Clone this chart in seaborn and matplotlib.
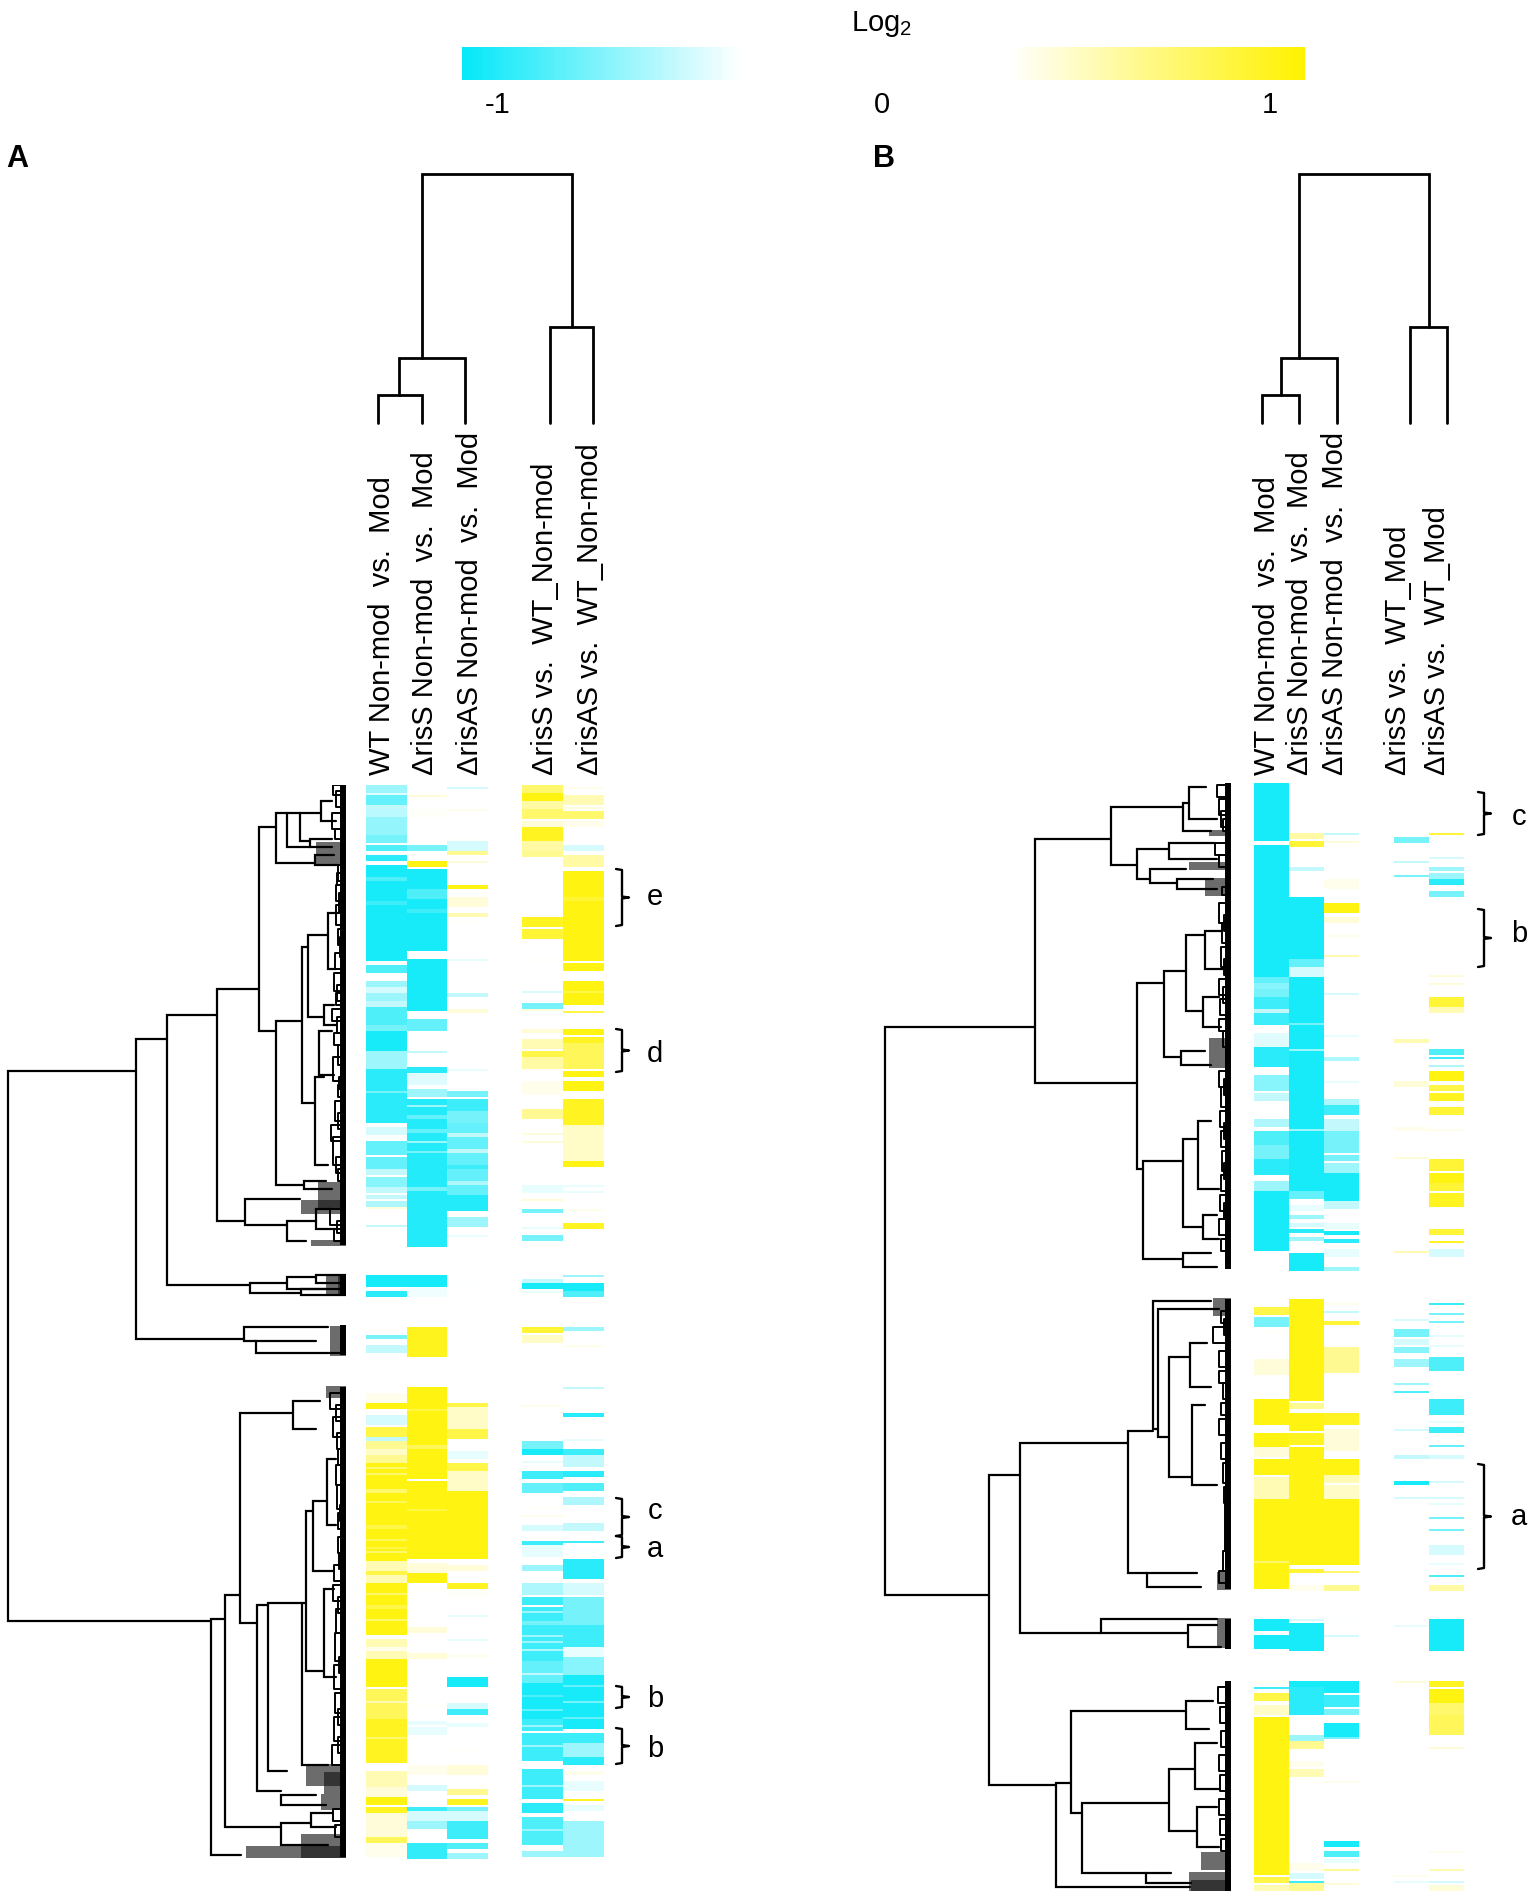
import numpy as np
import matplotlib
matplotlib.use("Agg")
import matplotlib.pyplot as plt
from matplotlib.colors import LinearSegmentedColormap
import seaborn as sns

# heatmap bands, one list per column: (first row, last row, log2 value), the rest of a column is 0
A_ROWS = 537
B_ROWS = 554

A_WT = [(0, 3, -.6), (4, 5, -.42), (5, 10, -.75), (10, 12, -.5), (12, 16, -.52), (16, 20, -.62), (20, 24, -.62), (25, 28, -.7),
        (30, 32, -.8), (35, 37, -.9), (40, 87, -.95), (46, 47, -.8), (58, 59, -.85), (90, 93, -.8), (98, 100, -.6), (101, 103, -.45),
        (104, 107, -.6), (108, 110, -.5), (111, 113, -.8), (114, 119, -.8), (120, 122, -.7), (123, 133, -.95), (133, 141, -.6), (142, 168, -.9),
        (153, 153, -.7), (171, 174, -.45), (176, 177, -.35), (178, 184, -.75), (186, 191, -.75), (192, 194, -.5), (196, 200, -.65),
        (201, 203, -.5), (205, 206, -.5), (208, 210, -.55), (211, 211, .4), (220, 220, -.5), (245, 250, -.95), (253, 255, -.9),
        (275, 276, -.7), (280, 283, -.5), (304, 308, .35), (309, 311, .95), (315, 319, -.45), (321, 326, .8), (326, 328, -.5),
        (328, 331, .6), (332, 334, .45), (335, 338, .6), (339, 387, .95), (341, 341, .7), (344, 344, .7), (352, 353, .7), (358, 358, .75),
        (370, 371, .8), (377, 377, .75), (381, 381, .8), (383, 383, .7),
        (388, 399, .5), (393, 394, .8), (399, 424, .95), (404, 404, .7), (410, 411, .8), (417, 417, .7), (427, 437, .5), (431, 432, .35),
        (437, 450, .95), (452, 467, .75), (458, 458, .5), (467, 488, .9), (476, 476, .7), (493, 500, .5), (501, 506, .4), (506, 509, .95),
        (511, 514, .9), (514, 525, .4), (526, 529, .75), (529, 535, .35)]
A_S = [(5, 5, .4), (12, 15, .32), (30, 32, -.7), (38, 40, .95), (42, 82, -.95), (52, 56, -.8), (62, 63, -.85), (87, 112, -.95),
       (117, 122, -.75), (133, 133, -.5), (141, 143, -.9), (144, 149, -.42), (152, 155, -.6), (157, 230, -.92), (160, 160, -.6),
       (165, 166, -.75), (172, 173, -.75), (178, 178, -.6), (183, 183, -.7), (201, 202, -.7), (245, 251, -.95), (251, 255, -.38),
       (271, 285, .92), (301, 346, .95), (312, 312, .8), (330, 331, .75), (348, 386, .95), (362, 362, .8), (387, 388, -.32), (389, 394, .4),
       (394, 398, .95), (401, 402, .32), (421, 423, .4), (434, 436, .4), (460, 460, .32), (468, 469, -.4), (471, 474, -.4), (490, 494, .35),
       (500, 502, -.45), (511, 512, -.85), (513, 518, -.45), (518, 521, -.6), (529, 536, -.88)]
A_AS = [(1, 1, -.45), (12, 12, .35), (27, 27, .32), (28, 32, -.45), (33, 34, .6), (38, 38, .4), (50, 51, .95), (56, 60, .4), (64, 65, .5),
        (68, 68, .32), (87, 87, -.4), (104, 105, -.5), (112, 113, .4), (142, 142, -.4), (153, 155, -.7), (157, 162, -.85), (163, 169, -.7),
        (169, 205, -.75), (174, 175, -.5), (182, 183, -.5), (190, 191, -.85), (198, 199, -.55), (205, 212, -.92), (216, 220, -.6),
        (225, 225, -.4), (250, 250, -.35), (309, 311, .8), (311, 322, .45), (322, 326, .8), (333, 336, -.4), (339, 343, .8), (343, 353, .45),
        (353, 386, .95), (390, 392, .4), (399, 401, .9), (403, 405, .32), (415, 415, -.4), (427, 427, -.4), (435, 435, .35), (446, 450, -.95),
        (459, 461, -.45), (462, 464, -.85), (469, 470, -.4), (482, 482, .32), (490, 494, .4), (502, 504, .6), (507, 509, .9), (511, 513, -.7),
        (513, 518, -.45), (518, 526, -.85), (529, 531, -.8), (534, 536, -.6)]
A_DS = [(0, 3, .7), (4, 8, .95), (8, 12, .55), (12, 16, .7), (18, 20, .4), (21, 28, .9), (28, 33, .55), (33, 35, .6), (66, 70, .9), (72, 76, .85),
        (87, 87, .32), (103, 103, -.45), (109, 111, -.7), (112, 112, .4), (122, 123, .4), (127, 131, .5), (133, 136, .8), (136, 141, .55),
        (142, 142, .32), (148, 154, .35), (162, 166, .6), (174, 174, .4), (178, 178, .4), (200, 202, -.4), (203, 203, -.4), (207, 207, .4),
        (212, 213, -.7), (221, 221, -.4), (225, 227, -.7), (247, 248, -.5), (249, 251, -.95), (253, 253, -.4), (271, 273, .85), (275, 278, .45),
        (310, 310, .35), (328, 331, -.7), (332, 334, -.95), (338, 338, -.4), (343, 346, -.85), (349, 353, -.75), (361, 361, .32), (365, 365, .35),
        (370, 372, -.45), (378, 380, -.85), (380, 385, -.4), (390, 392, -.6), (399, 404, -.55), (406, 409, -.85), (411, 438, -.85), (413, 413, -.6),
        (418, 419, -.7), (425, 425, -.6), (428, 428, -.6), (432, 432, -.55), (438, 449, -.75), (444, 444, -.5), (449, 467, -.95), (455, 455, -.8),
        (462, 462, -.75), (467, 472, -.85), (470, 470, -.6), (474, 487, -.85), (480, 480, -.6), (492, 494, -.85), (494, 506, -.85), (500, 500, -.6),
        (509, 513, -.9), (516, 525, -.8), (522, 522, -.6), (526, 529, -.8), (533, 535, -.6)]
A_DAS = [(1, 1, .35), (5, 9, .5), (11, 11, .4), (13, 16, .7), (18, 20, .35), (30, 32, -.45), (35, 40, .55), (43, 87, .95), (56, 57, .85),
         (89, 92, .95), (98, 109, .95), (103, 103, .8), (113, 113, .8), (122, 124, .95), (126, 128, .9), (129, 141, .75), (143, 145, .95),
         (148, 152, .95), (157, 169, .9), (170, 187, .45), (188, 190, .95), (200, 200, -.4), (203, 203, -.4), (212, 212, .35), (219, 221, .9),
         (245, 245, -.6), (249, 252, -.95), (253, 255, -.8), (271, 272, -.6), (280, 280, .35), (301, 301, -.5), (309, 309, -.35), (314, 315, -.9),
         (327, 327, -.4), (332, 334, -.85), (335, 340, -.5), (343, 345, -.9), (349, 352, -.8), (356, 359, -.55), (369, 372, -.5), (378, 378, -.85),
         (381, 384, -.35), (387, 396, -.9), (399, 404, -.45), (406, 420, -.7), (420, 431, -.85), (431, 436, -.4), (436, 444, -.65), (445, 471, -.95),
         (450, 450, -.75), (458, 458, -.7), (466, 466, -.75), (474, 479, -.85), (479, 486, -.6), (486, 489, -.9), (493, 494, .35), (498, 502, -.4),
         (507, 507, .9), (510, 512, -.4), (518, 535, -.6)]

B_WT = [(0, 25, -.95), (26, 28, -.95), (31, 97, -.95), (97, 99, -.75), (100, 102, -.65), (103, 107, -.7), (107, 113, -.85), (113, 115, -.5),
        (115, 120, -.85), (125, 131, -.42), (132, 135, -.9), (136, 141, -.9), (146, 153, -.65), (155, 158, -.5), (168, 171, -.55), (174, 180, -.8),
        (181, 185, -.7), (186, 188, -.7), (188, 195, -.9), (199, 203, -.6), (204, 233, -.95), (262, 265, .8), (267, 271, -.7), (274, 274, .32),
        (288, 295, .4), (308, 320, .95), (325, 331, .95), (332, 336, .4), (338, 345, .95), (347, 357, .5), (358, 402, .95), (389, 389, .7),
        (418, 423, -.95), (426, 432, -.95), (449, 449, .35), (452, 452, -.85), (455, 458, .8), (461, 465, .45), (467, 545, .95), (547, 549, .8),
        (551, 553, .5)]
B_S = [(25, 27, .55), (29, 31, .85), (42, 43, -.5), (57, 87, -.95), (88, 91, -.75), (92, 96, -.45), (97, 203, -.95), (120, 120, -.7), (133, 133, -.6),
       (173, 173, -.6), (204, 207, -.75), (211, 213, -.4), (216, 217, -.6), (220, 221, -.45), (223, 224, -.9), (227, 228, -.6), (235, 243, -.95),
       (258, 308, .95), (310, 312, .6), (315, 323, .95), (325, 330, .9), (332, 357, .95), (358, 390, .95), (393, 394, .85), (401, 403, .35),
       (418, 418, -.45), (420, 433, -.95), (449, 452, -.95), (452, 457, -.9), (458, 465, -.9), (476, 478, -.6), (479, 482, .6), (489, 491, .35),
       (493, 496, .5), (540, 543, .35), (545, 547, -.45), (549, 549, -.85), (550, 554, .6)]
B_AS = [(25, 25, -.5), (29, 29, .4), (48, 52, .35), (60, 64, .95), (67, 69, .4), (76, 76, .35), (86, 86, .5), (105, 105, -.45), (126, 126, -.4),
        (137, 138, -.55), (149, 149, -.4), (158, 161, -.55), (161, 165, -.85), (168, 173, -.5), (174, 184, -.7), (186, 188, -.7), (190, 195, -.6),
        (195, 208, -.95), (209, 212, -.5), (220, 222, -.4), (224, 225, -.95), (228, 229, -.9), (233, 236, -.4), (242, 243, -.6), (260, 260, .35),
        (264, 264, -.5), (269, 270, .85), (282, 294, .6), (315, 320, .9), (323, 333, .4), (338, 345, .95), (346, 349, .5), (351, 357, .45),
        (358, 390, .95), (394, 394, .7), (401, 403, .6), (417, 417, -.35), (426, 426, -.45), (449, 454, -.95), (456, 461, -.85), (463, 465, -.7),
        (470, 476, -.95), (477, 477, -.7), (499, 499, .35), (529, 531, -.95), (534, 536, -.8), (538, 539, -.4), (543, 543, .6), (550, 550, .4)]
B_DS = [(27, 29, -.7), (39, 39, -.5), (46, 46, -.7), (128, 129, .5), (149, 151, .4), (172, 173, .35), (187, 187, .4), (234, 234, .5), (268, 268, -.45),
        (273, 276, -.7), (278, 280, -.45), (282, 284, -.65), (288, 291, -.6), (300, 300, -.6), (304, 304, -.8), (323, 323, -.45), (336, 337, -.5),
        (349, 350, -.95), (357, 357, -.45), (421, 421, -.4), (449, 449, .4), (546, 546, .35), (549, 549, -.4)]
B_DAS = [(25, 25, .85), (37, 37, -.45), (42, 43, -.6), (45, 50, -.6), (48, 50, -.9), (54, 56, -.7), (96, 96, .4), (100, 100, .4), (107, 111, .85),
         (112, 114, .5), (133, 135, -.8), (137, 137, -.85), (141, 141, -.55), (144, 148, .95), (151, 153, .8), (155, 158, .9), (162, 165, .85),
         (173, 173, .35), (188, 193, .85), (195, 199, .95), (200, 203, .85), (205, 211, .9), (223, 225, .85), (229, 229, .9), (233, 236, -.45),
         (260, 260, -.85), (265, 265, -.7), (269, 269, -.7), (276, 276, -.4), (281, 281, -.4), (287, 293, -.8), (308, 315, -.85), (319, 319, -.4),
         (322, 324, -.85), (331, 331, -.75), (336, 337, -.45), (349, 349, -.45), (357, 357, -.45), (360, 360, -.4), (367, 367, -.7), (373, 373, -.7),
         (381, 385, -.45), (390, 390, -.4), (396, 396, -.8), (401, 403, .55), (418, 433, -.95), (449, 451, .9), (453, 459, .95), (460, 466, .7),
         (466, 475, .75), (482, 482, .4), (534, 534, .35), (543, 543, .5), (549, 549, -.45), (551, 554, .4)]

A_COLS = ["WT Non-mod  vs.  Mod", "\u0394risS Non-mod  vs.  Mod", "\u0394risAS Non-mod  vs.  Mod",
          "\u0394risS vs.  WT_Non-mod", "\u0394risAS vs.  WT_Non-mod"]
B_COLS = ["WT Non-mod  vs.  Mod", "\u0394risS Non-mod  vs.  Mod", "\u0394risAS Non-mod  vs.  Mod",
          "\u0394risS vs.  WT_Mod", "\u0394risAS vs.  WT_Mod"]

# row dendrograms: (depth, row a, row b, depth of child a, depth of child b)
A_TREE = [(338, 143, 418, 210, 135), (210, 127, 277, 179, 102), (102, 271, 278, 18, 90), (90, 278, 284, 30, 0), (179, 115, 250, 129, 96),
          (96, 249, 254, 59, 45), (59, 246, 252, 30, 20), (30, 245, 249, 0, 0), (45, 252, 255, 0, 0), (129, 102, 218, 87, 101), (87, 21, 123, 70, 70),
          (70, 14, 39, 59, 31), (59, 14, 31, 46, 36), (46, 14, 28, 25, 36),
          (25, 8, 18, 14, 10), (31, 35, 40, 12, 8), (36, 27, 31, 14, 14), (70, 118, 200, 44, 42), (44, 81, 159, 38, 31), (38, 75, 116, 18, 22),
          (18, 64, 92, 8, 10), (22, 110, 120, 12, 10), (31, 146, 190, 22, 18), (27, 123, 145, 14, 12), (42, 198, 202, 20, 14), (101, 207, 220, 46, 59),
          (59, 218, 228, 30, 40), (30, 212, 222, 14, 10), (135, 417, 535, 121, 105), (121, 405, 521, 106, 65), (106, 314, 419, 53, 89),
          (89, 410, 503, 78, 65), (78, 409, 493, 44, 59), (44, 409, 490, 40, 18), (40, 363, 443, 33, 22), (33, 358, 393, 19, 12), (19, 337, 370, 10, 10),
          (22, 402, 446, 12, 10), (53, 308, 322, 26, 30), (65, 505, 510, 30, 20), (65, 519, 530, 35, 18), (35, 514, 521, 14, 10)]
B_TREE = [(346, 122, 406, 196, 242), (196, 28, 150, 120, 94), (120, 12, 41, 48, 94), (48, 10, 24, 42, 20), (42, 2, 18, 25, 14), (94, 33, 48, 62, 81),
          (62, 30, 38, 16, 14), (81, 43, 50, 45, 54), (54, 48, 53, 18, 14), (94, 100, 193, 67, 88), (67, 94, 137, 45, 50), (45, 76, 114, 26, 28),
          (26, 74, 93, 10, 8), (28, 107, 122, 12, 10), (50, 134, 141, 26, 20), (88, 189, 238, 48, 48), (48, 178, 222, 33, 28), (33, 169, 203, 20, 12),
          (28, 216, 228, 14, 12), (48, 235, 242, 20, 14), (242, 346, 501, 211, 175), (211, 330, 425, 103, 130), (103, 324, 395, 78, 84), (78, 259, 323, 20, 73),
          (73, 263, 327, 12, 62), (62, 287, 347, 41, 39), (41, 280, 302, 24, 20), (39, 311, 351, 26, 14), (84, 395, 402, 34, 30), (130, 418, 425, 14, 43),
          (43, 421, 432, 14, 10), (175, 500, 552, 160, 41), (160, 464, 515, 45, 149), (45, 459, 473, 18, 22), (149, 510, 545, 62, 85), (62, 493, 524, 36, 34),
          (36, 480, 503, 14, 12), (34, 512, 532, 14, 12), (85, 545, 550, 60, 40)]

# small twigs next to the leaf band: (row a, row b, depth)
A_TWIGS = [(0, 5, 13), (3, 11, 10), (14, 22, 14), (22, 27, 11), (40, 48, 8), (44, 50, 9), (50, 58, 10), (54, 64, 7), (60, 70, 10), (72, 80, 8), (76, 86, 6),
           (84, 92, 11), (94, 103, 12), (100, 108, 9), (104, 110, 10), (112, 118, 14), (116, 124, 9), (124, 130, 12), (130, 140, 8), (136, 148, 13), (146, 152, 7),
           (150, 156, 8), (158, 168, 11), (164, 172, 8), (170, 178, 15), (176, 190, 13), (186, 194, 10), (192, 198, 8), (212, 220, 16), (218, 224, 9), (222, 228, 12),
           (304, 312, 16), (310, 318, 10), (316, 326, 13), (324, 332, 9), (332, 340, 8), (340, 350, 10), (350, 362, 9), (360, 368, 6), (364, 372, 8), (376, 384, 8),
           (384, 392, 7), (390, 398, 12), (400, 408, 13), (406, 414, 8), (412, 424, 10), (424, 438, 11), (436, 444, 7), (440, 452, 12), (454, 464, 11),
           (462, 470, 8), (466, 478, 12), (476, 484, 8), (480, 490, 14), (512, 518, 13), (520, 526, 11)]
B_TWIGS = [(1, 7, 14), (8, 16, 12), (14, 22, 10), (18, 24, 8), (30, 36, 16), (36, 42, 12), (52, 56, 9), (60, 70, 12), (66, 74, 7), (70, 80, 9), (82, 92, 10), (88, 96, 7),
           (98, 106, 12), (102, 110, 8), (108, 116, 11), (118, 124, 12), (124, 132, 8), (144, 152, 12), (148, 156, 7), (152, 162, 10), (164, 172, 11), (170, 178, 7),
           (174, 182, 10), (184, 194, 9), (190, 198, 7), (196, 204, 10), (206, 214, 11), (210, 218, 7), (218, 226, 12), (228, 234, 10), (264, 270, 10), (268, 276, 7),
           (272, 280, 18), (284, 292, 12), (294, 300, 12), (300, 308, 8), (310, 316, 10), (318, 326, 12), (330, 338, 10), (340, 350, 8), (352, 360, 7), (360, 372, 6),
           (372, 384, 6), (384, 394, 8), (394, 400, 12), (452, 460, 13), (462, 470, 11), (474, 482, 10), (486, 494, 12), (496, 504, 11), (508, 516, 12), (518, 526, 11),
           (528, 534, 10)]

# rows of closely packed leaves: (first row, last row, depth)
A_DENSE = [(29, 39, 30), (199, 212, 28), (208, 214, 45), (228, 230, 35), (245, 255, 20), (245, 255, 8), (271, 285, 16), (301, 306, 20), (490, 500, 40),
           (494, 504, 22), (505, 512, 25), (525, 536, 45), (531, 536, 100)]
B_DENSE = [(24, 26, 22), (40, 43, 42), (48, 56, 26), (128, 142, 22), (258, 266, 18), (395, 403, 14), (418, 432, 14), (535, 543, 30), (545, 554, 42), (549, 554, 40)]

# leaf band blocks: (first row, last row)
A_BLOCKS = [(0, 230), (245, 255), (270, 285), (301, 536)]
B_BLOCKS = [(0, 243), (258, 403), (418, 433), (449, 554)]

W, H = 1535, 1900
sns.set_style("white")
plt.rcParams["font.family"] = ["Liberation Sans", "DejaVu Sans"]
plt.rcParams["mathtext.default"] = "regular"
plt.rcParams["text.color"] = "black"

cmap = LinearSegmentedColormap.from_list("log2", [(0, "#05e8f8"), (.33, "#ffffff"), (.65, "#ffffff"), (1, "#fff200")])

fig = plt.figure(figsize=(W / 100, H / 100), dpi=100)


def px_axes(x0, y0, x1, y1):
    return fig.add_axes([x0 / W, 1 - y1 / H, (x1 - x0) / W, (y1 - y0) / H])


def expand(bands, n):
    col = np.zeros(n)
    for first, last, val in bands:
        col[first:last + 1] = val
    return col


def heat(cols, n, x0, x1, y0, y1):
    ax = px_axes(x0, y0, x1, y1)
    sns.heatmap(np.column_stack([expand(c, n) for c in cols]), ax=ax, cmap=cmap, vmin=-1, vmax=1, cbar=False,
                xticklabels=False, yticklabels=False)


def row_tree(tree, twigs, dense, blocks, n, x0, x1, y0, y1):
    ax = px_axes(x0, y0, x1, y1)
    ax.set_xlim(x1 - x0, 0)
    ax.set_ylim(n, 0)
    ax.axis("off")
    for first, last, d in dense:
        for r in range(first, last + 1):
            ax.plot([d, 0], [r, r], color="#111111", lw=1.1, alpha=.8, solid_capstyle="butt")
    for d, a, b, da, db in tree:
        ax.plot([da, d, d, db], [a, a, b, b], color="black", lw=1.6, solid_joinstyle="miter")
    for a, b, d in twigs:
        ax.plot([0, d, d, 0], [a, a, b, b], color="black", lw=1.4)
    for first, last in blocks:
        ax.plot([3, 3], [first, last], color="black", lw=4.3, solid_capstyle="butt")


heat([A_WT, A_S, A_AS], A_ROWS, 366, 488, 785, 1859)
heat([A_DS, A_DAS], A_ROWS, 522, 604, 785, 1859)
row_tree(A_TREE, A_TWIGS, A_DENSE, A_BLOCKS, A_ROWS, 4, 346, 785, 1859)

heat([B_WT, B_S, B_AS], B_ROWS, 1254, 1359, 783, 1891)
heat([B_DS, B_DAS], B_ROWS, 1394, 1464, 783, 1891)
row_tree(B_TREE, B_TWIGS, B_DENSE, B_BLOCKS, B_ROWS, 880, 1231, 783, 1891)

# colour key
key = px_axes(462, 47, 1305, 80)
sns.heatmap(np.linspace(-1, 1, 256)[None, :], ax=key, cmap=cmap, vmin=-1, vmax=1, cbar=False, xticklabels=False, yticklabels=False)

over = px_axes(0, 0, W, H)
over.set_xlim(0, W)
over.set_ylim(H, 0)
over.axis("off")
over.patch.set_alpha(0)


def col_tree(leaf_y, merges):
    for h, xa, xb, ha, hb in merges:
        over.plot([xa, xa, xb, xb], [leaf_y - ha, leaf_y - h, leaf_y - h, leaf_y - hb], color="black", lw=2.0, solid_joinstyle="miter")


col_tree(423, [(28, 378, 422, 0, 0), (65, 399, 465, 28, 0), (96, 550, 593, 0, 0), (249, 422, 572, 65, 96)])
col_tree(423, [(28, 1262, 1299, 0, 0), (65, 1281, 1337, 28, 0), (96, 1410, 1447, 0, 0), (249, 1299, 1429, 65, 96)])

for lab, x in zip(A_COLS, [382, 425, 470, 545, 590]):
    over.text(x, 775, lab, rotation=90, ha="center", va="bottom", fontsize=21)
for lab, x in zip(B_COLS, [1267, 1300, 1335, 1398, 1437]):
    over.text(x, 775, lab, rotation=90, ha="center", va="bottom", fontsize=21)

over.text(882, 24, "Log$_2$", ha="center", va="center", fontsize=21)
for lab, x in [("-1", 498), ("0", 882), ("1", 1270)]:
    over.text(x, 105, lab, ha="center", va="center", fontsize=21)
over.text(6, 159, "A", ha="left", va="center", fontsize=22, fontweight="bold")
over.text(873, 159, "B", ha="left", va="center", fontsize=22, fontweight="bold")


def brace(x, y0, y1, label, label_y, label_x):
    mid = (y0 + y1) / 2
    over.plot([x, x + 6, x + 6, x + 13, x + 6, x + 6, x], [y0, y0 + 1, mid - 1, mid, mid + 1, y1 - 1, y1], color="black", lw=1.7)
    over.text(label_x, label_y, label, ha="center", va="center", fontsize=21)


brace(616, 869, 926, "e", 897, 655)
brace(616, 1029, 1072, "d", 1054, 655)
brace(616, 1498, 1536, "c", 1511, 655)
brace(616, 1536, 1558, "a", 1549, 655)
brace(616, 1686, 1708, "b", 1699, 655)
brace(616, 1728, 1764, "b", 1749, 655)
brace(1478, 792, 835, "c", 817, 1519)
brace(1478, 909, 967, "b", 934, 1519)
brace(1478, 1464, 1569, "a", 1517, 1519)

fig.savefig("out.png", dpi=100, facecolor="white")
